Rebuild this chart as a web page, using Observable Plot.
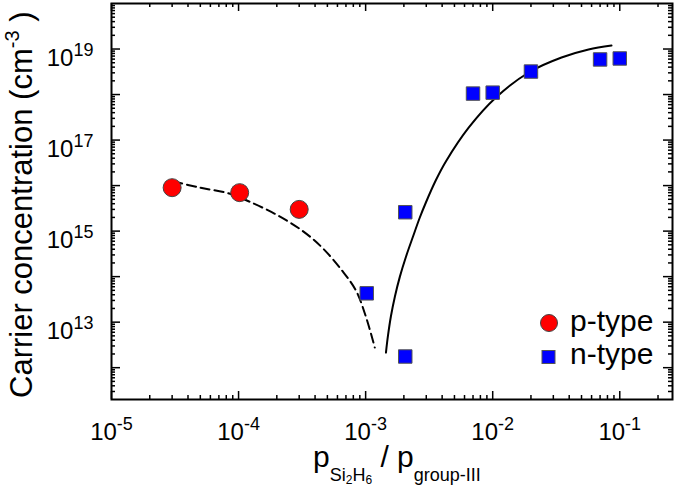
<!DOCTYPE html>
<html><head><meta charset="utf-8">
<script src="https://cdn.jsdelivr.net/npm/d3@7"></script>
<script src="https://cdn.jsdelivr.net/npm/@observablehq/plot@0.6"></script>
<style>
body{margin:0;background:#fff;}
#chart{position:relative;width:685px;height:490px;}
svg text{white-space:pre;}
</style></head><body><div id="chart"></div>
<script>
// ---- data ----
const pTypeX = [3e-5, 1.02e-4, 3e-4];
const pTypeY = [9.0e15, 7.0e15, 3.0e15];
const nTypeX = [1.02e-3, 2.05e-3, 2.05e-3, 7e-3, 1e-2, 2e-2, 7e-2, 1e-1];
const nTypeY = [4.3e13, 2.6e15, 1.76e12, 1.05e18, 1.1e18, 3.2e18, 5.9e18, 6.2e18];
// dashed guide line (p-type)
const pFitX = [3.07e-5, 4.91e-5, 8.45e-5, 1.21e-4, 1.98e-4, 3.16e-4, 4.54e-4, 6.52e-4, 8.39e-4, 1.01e-3, 1.18e-3];
const pFitY = [1.23e16, 9.06e15, 6.7e15, 4.47e15, 2.31e15, 1.03e15, 4.36e14, 1.36e14, 4.95e13, 1.26e13, 2.77e12];
// solid guide line (n-type)
const nFitX = [1.445e-3, 1.50e-3, 1.58e-3, 1.70e-3, 1.86e-3, 2.08e-3, 2.36e-3, 2.67e-3, 2.98e-3, 3.56e-3, 4.28e-3, 6.49e-3, 1.06e-2, 1.92e-2, 3.48e-2, 5.68e-2, 8.61e-2];
const nFitY = [2.15e12, 5.1e12, 1.33e13, 3.66e13, 1.0e14, 2.77e14, 7.6e14, 1.99e15, 4.25e15, 1.29e16, 3.38e16, 1.89e17, 8.6e17, 3.05e18, 6.5e18, 9.75e18, 1.19e19];
// ticks
const xTickValues = [1e-5, 1e-4, 1e-3, 1e-2, 1e-1];
const xTickExponents = ["-5", "-4", "-3", "-2", "-1"];
const yTickValues = [1e13, 1e15, 1e17, 1e19];
const yTickExponents = ["13", "15", "17", "19"];
const yMajorTicks = [1e12, 1e13, 1e14, 1e15, 1e16, 1e17, 1e18, 1e19];
const seriesNames = ["p-type", "n-type"];

// minor ticks (2..9 x 10^n) inside the domains
const xDomain = [1e-5, 0.26], yDomain = [2e11, 1e20];
function minors(dom) {
  const out = [];
  for (let e = Math.floor(Math.log10(dom[0])); e <= Math.ceil(Math.log10(dom[1])); e++)
    for (let k = 2; k <= 9; k++) { const v = k * Math.pow(10, e); if (v > dom[0] && v < dom[1]) out.push(v); }
  return out;
}
const xMinorTicks = minors(xDomain), yMinorTicks = minors(yDomain);

const pType = pTypeX.map((x, i) => ({x, y: pTypeY[i]}));
const nType = nTypeX.map((x, i) => ({x, y: nTypeY[i]}));
const pFit = pFitX.map((x, i) => ({x, y: pFitY[i]}));
const nFit = nFitX.map((x, i) => ({x, y: nFitY[i]}));

const W = 685, H = 490, mL = 111, mR = 13, mT = 3, mB = 91;
const iw = W - mL - mR, ih = H - mT - mB;
const font = '"Liberation Sans", Arial, Helvetica, sans-serif';
const tk = {stroke: "black", strokeWidth: 1.5};

const chart = Plot.plot({
  width: W, height: H,
  marginLeft: mL, marginRight: mR, marginTop: mT, marginBottom: mB,
  style: {fontFamily: font, fontSize: "24px", color: "black", background: "white", overflow: "visible"},
  x: {type: "log", domain: xDomain, label: null},
  y: {type: "log", domain: yDomain, label: null},
  marks: [
    Plot.tickX(xTickValues, {x: d => d, insetTop: ih - 8, ...tk}),
    Plot.tickX(xTickValues, {x: d => d, insetBottom: ih - 8, ...tk}),
    Plot.tickX(xMinorTicks, {x: d => d, insetTop: ih - 4, ...tk}),
    Plot.tickX(xMinorTicks, {x: d => d, insetBottom: ih - 4, ...tk}),
    Plot.tickY(yMajorTicks, {y: d => d, insetRight: iw - 9, ...tk}),
    Plot.tickY(yMajorTicks, {y: d => d, insetLeft: iw - 9, ...tk}),
    Plot.tickY(yMinorTicks, {y: d => d, insetRight: iw - 4, ...tk}),
    Plot.tickY(yMinorTicks, {y: d => d, insetLeft: iw - 4, ...tk}),
    Plot.axisX(xTickValues, {tickSize: 0, tickPadding: 23, label: null, fontSize: 24,
      tickFormat: d => "10|" + xTickExponents[xTickValues.indexOf(d)]}),
    Plot.axisY(yTickValues, {tickSize: 0, tickPadding: 18, label: null, fontSize: 24, dy: 9,
      tickFormat: d => "10|" + yTickExponents[yTickValues.indexOf(d)]}),
    Plot.line(pFit, {x: "x", y: "y", stroke: "black", strokeWidth: 2, strokeDasharray: "9,5", curve: "catmull-rom"}),
    Plot.line(nFit, {x: "x", y: "y", stroke: "black", strokeWidth: 2, curve: "catmull-rom"}),
    Plot.dot(pType, {x: "x", y: "y", r: 9, symbol: "circle", fill: "#ff0000", stroke: "#444", strokeWidth: 1}),
    Plot.dot(nType, {x: "x", y: "y", r: 7.6, symbol: "square", fill: "#0000ff", stroke: "#555", strokeWidth: 1}),
    Plot.frame({stroke: "black", strokeWidth: 2})
  ]
});

const svg = d3.select(chart);
// superscript exponents on tick labels
svg.selectAll('g[aria-label="x-axis tick label"] text, g[aria-label="y-axis tick label"] text').each(function () {
  const t = d3.select(this);
  const [base, exp] = t.text().split("|");
  t.text(null);
  t.append("tspan").text(base);
  t.append("tspan").attr("dy", -10).attr("font-size", 18).text(exp);
});

// x-axis title
const xt = svg.append("text").attr("x", 313).attr("y", 467).attr("font-size", 30)
  .attr("text-anchor", "start").attr("font-family", font).attr("fill", "black");
xt.append("tspan").text("p");
xt.append("tspan").attr("font-size", 18).attr("dy", 14).text("Si");
xt.append("tspan").attr("font-size", 12).attr("dy", 3).text("2");
xt.append("tspan").attr("font-size", 18).attr("dy", -3).text("H");
xt.append("tspan").attr("font-size", 12).attr("dy", 3).text("6");
xt.append("tspan").attr("font-size", 30).attr("dy", -17).text(" / p");
xt.append("tspan").attr("font-size", 18).attr("dy", 14).text("group-III");

// y-axis title
const yt = svg.append("text").attr("transform", "translate(32,398) rotate(-90)").attr("font-size", 31)
  .attr("text-anchor", "start").attr("font-family", font).attr("fill", "black");
yt.append("tspan").text("Carrier concentration (cm");
yt.append("tspan").attr("font-size", 20).attr("dy", -13).text("-3");
yt.append("tspan").attr("dy", 13).text(" )");

// legend
const lg = svg.append("g").attr("font-family", font).attr("font-size", 30).attr("fill", "black")
  .attr("text-anchor", "start");
lg.append("circle").attr("cx", 549).attr("cy", 323).attr("r", 8.5).attr("fill", "#ff0000").attr("stroke", "#444");
lg.append("rect").attr("x", 542).attr("y", 350.5).attr("width", 13).attr("height", 13).attr("fill", "#0000ff").attr("stroke", "#555");
lg.append("text").attr("x", 570).attr("y", 331).text(seriesNames[0]);
lg.append("text").attr("x", 570).attr("y", 364).text(seriesNames[1]);

document.getElementById("chart").appendChild(chart);
</script></body></html>
